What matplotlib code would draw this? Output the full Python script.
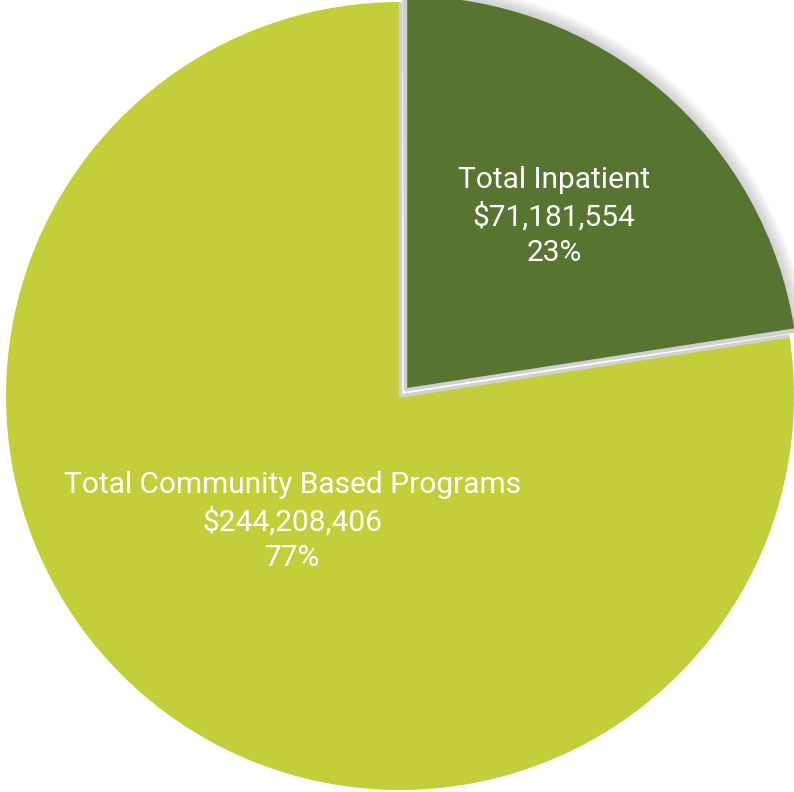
import numpy as np
import matplotlib
matplotlib.use("Agg")
import matplotlib.pyplot as plt
from matplotlib.patches import Wedge

categories = ["Total Inpatient", "Total Community Based Programs"]
amounts = [71181554, 244208406]
pct_labels = ["23%", "77%"]
colors = ["#577431", "#C2CF3B"]

plt.rcParams['font.family'] = ['Roboto', 'DejaVu Sans']

fig = plt.figure(figsize=(7.94, 7.92), dpi=100)
ax = fig.add_axes([0, 0, 1, 1])

labels = []
for c, a, p in zip(categories, amounts, pct_labels):
    labels.append(c + "\n" + "${:,}".format(a) + "\n" + p)

R = 394.0
wedges, texts = ax.pie(amounts, colors=colors, startangle=90, counterclock=False,
                       explode=[0.02, 0], radius=1.0, labels=labels, labeldistance=0.58,
                       wedgeprops=dict(linewidth=0),
                       textprops=dict(color="white", fontsize=21.5))

# soft shadow round the exploded slice
w0 = wedges[0]
for i in range(12):
    sh = Wedge(w0.center, w0.r + 0.003 * (i + 1), w0.theta1 - 0.4, w0.theta2 + 0.4,
               facecolor="#888888", alpha=0.035, linewidth=0, zorder=0)
    ax.add_patch(sh)

# light grey seams along the straight edges
for w in wedges:
    cx, cy = w.center
    for th in (w.theta1, w.theta2):
        t = np.deg2rad(th)
        ax.plot([cx, cx + w.r * np.cos(t)], [cy, cy + w.r * np.sin(t)],
                color="#d0d0d0", lw=2.5, solid_capstyle="butt", zorder=3)

# community label sits closer to the centre
dists = [0.58, 0.42]
for w, t, d in zip(wedges, texts, dists):
    th = np.deg2rad((w.theta1 + w.theta2) / 2)
    cx, cy = w.center
    t.set_position((cx + d * np.cos(th), cy + d * np.sin(th)))
    t.set_ha("center")
    t.set_va("center")
    t.set_multialignment("center")
    t.set_linespacing(1.35)
    t.set_zorder(5)

ax.set_xlim(-400 / R, 394 / R)
ax.set_ylim(-396 / R, 396 / R)
ax.axis("off")

fig.savefig("out.png", dpi=100)
